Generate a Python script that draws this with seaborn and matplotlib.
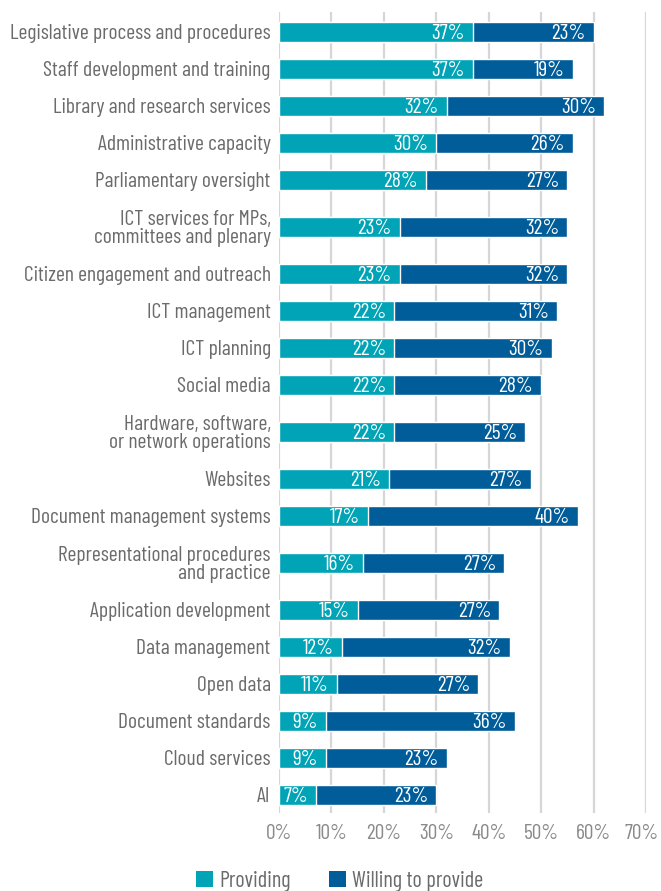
import matplotlib
matplotlib.use("Agg")
import matplotlib.pyplot as plt
from matplotlib.patches import Patch
from matplotlib import transforms
import numpy as np
import pandas as pd
import seaborn as sns

categories = [
    "Legislative process and procedures",
    "Staff development and training",
    "Library and research services",
    "Administrative capacity",
    "Parliamentary oversight",
    "ICT services for MPs,\ncommittees and plenary",
    "Citizen engagement and outreach",
    "ICT management",
    "ICT planning",
    "Social media",
    "Hardware, software,\nor network operations",
    "Websites",
    "Document management systems",
    "Representational procedures\nand practice",
    "Application development",
    "Data management",
    "Open data",
    "Document standards",
    "Cloud services",
    "AI",
]
providing = [37, 37, 32, 30, 28, 23, 23, 22, 22, 22, 22, 21, 17, 16, 15, 12, 11, 9, 9, 7]
willing = [23, 19, 30, 26, 27, 32, 32, 31, 30, 28, 25, 27, 40, 27, 27, 32, 27, 36, 23, 23]
series_names = ["Providing", "Willing to provide"]
x_ticks = [0, 10, 20, 30, 40, 50, 60, 70]

TEAL = "#00A4B6"
BLUE = "#005D99"
LABEL_GRAY = "#6b6b6b"
TICK_GRAY = "#8a8a8a"
GRID = "#d6d6d6"
WEIGHT = "normal"

sns.set_theme(style="white")
FONT = ["Barlow Condensed", "Roboto Condensed", "DejaVu Sans"]
plt.rcParams["font.family"] = FONT
plt.rcParams["font.weight"] = WEIGHT

# vertical layout: two-line labels get extra room around them
two_line = ["\n" in c for c in categories]
pos = [0.0]
for i in range(1, len(categories)):
    gap = 1.27 if (two_line[i] or two_line[i - 1]) else 1.0
    pos.append(pos[-1] + gap)

df = pd.DataFrame({
    "category": categories,
    "pos": pos,
    "providing": providing,
    "willing": willing,
})
df["total"] = df["providing"] + df["willing"]

fig = plt.figure(figsize=(6.61, 8.91), dpi=100)
ax = fig.add_axes([279 / 661, 1 - 813 / 891, (646 - 279) / 661, (813 - 12) / 891])

sns.barplot(data=df, x="total", y="pos", orient="h", native_scale=True,
            color=BLUE, saturation=1, width=0.53, errorbar=None, ax=ax, zorder=3)
sns.barplot(data=df, x="providing", y="pos", orient="h", native_scale=True,
            color=TEAL, saturation=1, width=0.53, errorbar=None, ax=ax, zorder=4)

ax.set_xlim(0, 70)
ax.set_ylim(pos[-1] + 0.49, -0.54)
ax.set_xticks(x_ticks)
ax.set_xticklabels([f"{t}%" for t in x_ticks])
ax.set_yticks(pos)
ax.set_yticklabels(categories, linespacing=0.95)
ax.set_xlabel("")
ax.set_ylabel("")

for s in ax.spines.values():
    s.set_visible(False)
ax.grid(axis="x", color=GRID, linewidth=1.6, zorder=0)
ax.grid(axis="y", visible=False)
ax.set_axisbelow(True)

ax.tick_params(axis="y", length=0, pad=6, labelsize=15.5, labelcolor=LABEL_GRAY)
ax.tick_params(axis="x", length=0, pad=8, labelsize=15.5, labelcolor=TICK_GRAY)
for lab in ax.get_yticklabels() + ax.get_xticklabels():
    lab.set_fontweight(WEIGHT)
# keep the last tick label inside the canvas
last = ax.get_xticklabels()[-1]
last.set_transform(last.get_transform() + transforms.ScaledTranslation(-4 / 100, 0, fig.dpi_scale_trans))

# value labels, right-aligned inside each segment
off = transforms.offset_copy(ax.transData, fig=fig, x=-8, y=0, units="dots")
for p, pv, tot, wv in zip(pos, providing, df["total"], willing):
    ax.text(pv, p, f"{pv}%", transform=off, ha="right", va="center_baseline",
            color="white", fontsize=15.5, fontweight=WEIGHT, zorder=5)
    ax.text(tot, p, f"{wv}%", transform=off, ha="right", va="center_baseline",
            color="white", fontsize=15.5, fontweight=WEIGHT, zorder=5)

handles = [Patch(facecolor=TEAL, edgecolor="none"), Patch(facecolor=BLUE, edgecolor="none")]
leg = fig.legend(handles, series_names, loc="center", bbox_to_anchor=(340 / 661, 1 - 881 / 891),
                 ncol=2, frameon=False, handlelength=0.75, handleheight=0.75,
                 handletextpad=0.3, columnspacing=1.7, fontsize=16, labelcolor=LABEL_GRAY)
for t in leg.get_texts():
    t.set_fontweight(WEIGHT)

fig.savefig("out.png", dpi=100)
